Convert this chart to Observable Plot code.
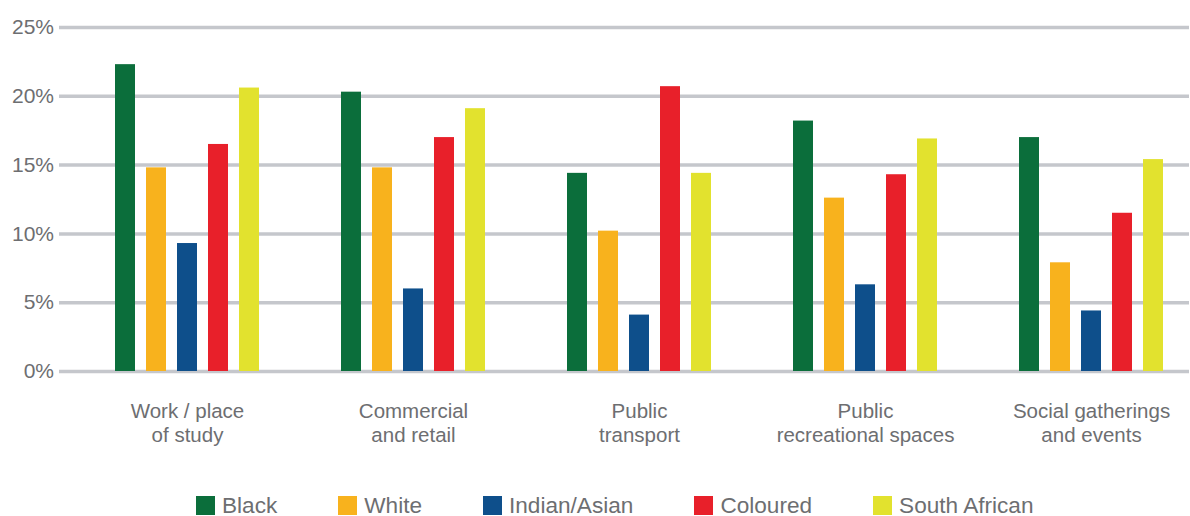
<!DOCTYPE html>
<html>
<head>
<meta charset="utf-8">
<script src="https://cdn.jsdelivr.net/npm/d3@7"></script>
<script src="https://cdn.jsdelivr.net/npm/@observablehq/plot@0.6"></script>
<style>
  html, body { margin: 0; padding: 0; background: #ffffff; }
  #chart { position: relative; width: 1190px; height: 516px; font-family: "Liberation Sans", Arial, sans-serif; color: #6d6e71; }
  #legend { position: absolute; top: 496px; left: 196px; display: flex; font-size: 22.6px; line-height: 19px; }
  .item { display: flex; align-items: flex-start; margin-right: 61px; }
  .sw { width: 19px; height: 19px; margin-right: 7px; }
</style>
</head>
<body>
<div id="chart"></div>
<script>
const groups = ["Work / place\nof study", "Commercial\nand retail", "Public\ntransport", "Public\nrecreational spaces", "Social gatherings\nand events"];
const series = ["Black", "White", "Indian/Asian", "Coloured", "South African"];
const colors = ["#0b6e3b", "#f8b21d", "#0e4f8b", "#e8202a", "#e2e22e"];
const black        = [22.3, 20.3, 14.4, 18.2, 17.0];
const white        = [14.8, 14.8, 10.2, 12.6, 7.9];
const indianAsian  = [9.3, 6.0, 4.1, 6.3, 4.4];
const coloured     = [16.5, 17.0, 20.7, 14.3, 11.5];
const southAfrican = [20.6, 19.1, 14.4, 16.9, 15.4];
const yTicks = [0, 5, 10, 15, 20, 25];

const valuesBySeries = [black, white, indianAsian, coloured, southAfrican];
const data = [];
groups.forEach((g, gi) => series.forEach((s, si) => data.push({group: g, series: s, value: valuesBySeries[si][gi]})));

const chart = Plot.plot({
  width: 1190,
  height: 470,
  marginLeft: 59,
  marginRight: 1,
  marginTop: 27,
  marginBottom: 99,
  style: {fontFamily: '"Liberation Sans", Arial, sans-serif', color: "#6d6e71", background: "#ffffff"},
  fx: {domain: groups, padding: 0, label: null},
  x: {domain: series, range: [113, 260], paddingInner: 0.37, paddingOuter: 0, axis: null},
  y: {domain: [0, 25], label: null},
  color: {domain: series, range: colors},
  marks: [
    Plot.ruleY(yTicks, {stroke: "#c5c7cc", strokeWidth: 3.5}),
    Plot.barY(data, {fx: "group", x: "series", y: "value", fill: "series", inset: 0}),
    Plot.axisY(yTicks, {tickSize: 0, tickPadding: 5.5, tickFormat: d => d + "%", fontSize: 21, label: null}),
    Plot.axisFx({anchor: "bottom", tickSize: 0, tickPadding: 29, fontSize: 20.5, lineHeight: 1.17, dx: 15, label: null})
  ]
});
document.getElementById("chart").appendChild(chart);

const legend = document.createElement("div");
legend.id = "legend";
series.forEach((s, i) => {
  const item = document.createElement("div");
  item.className = "item";
  const sw = document.createElement("div");
  sw.className = "sw";
  sw.style.background = colors[i];
  const lab = document.createElement("span");
  lab.textContent = s;
  item.appendChild(sw);
  item.appendChild(lab);
  legend.appendChild(item);
});
document.getElementById("chart").appendChild(legend);
</script>
</body>
</html>
